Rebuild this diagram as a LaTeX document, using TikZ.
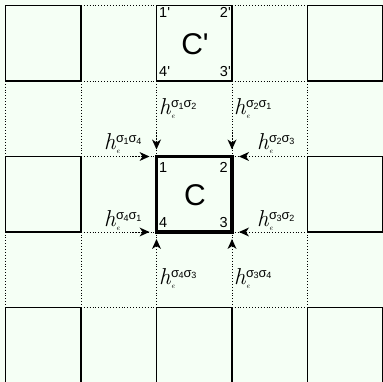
\documentclass[tikz,border=0pt]{standalone}
\usepackage{fontspec}
\setsansfont{Liberation Sans}[Ligatures=TeXOff]
\usetikzlibrary{arrows.meta}
\definecolor{bgc}{RGB}{245,255,245}
\newcommand{\hlab}[2]{{\fontsize{23}{23}\selectfont\itshape h}\kern0.3pt\rlap{\raisebox{-4pt}{\fontsize{7.5}{7.5}\selectfont\itshape e}}\raisebox{7pt}{\sffamily\fontsize{13}{13}\selectfont σ\kern-0.3pt\raisebox{-1.5pt}{\fontsize{9}{9}\selectfont #1}σ\kern-0.3pt\raisebox{-1.5pt}{\fontsize{9}{9}\selectfont #2}}}
\newcommand{\pr}{'}
\begin{document}
\begin{tikzpicture}[x=1pt,y=-1pt,
  cell/.style={draw=black,line width=1.6pt,fill=bgc,minimum size=75.5pt,inner sep=0pt,outer sep=0pt,anchor=north west},
  main/.style={cell,line width=3.5pt},
  grid/.style={line width=0.8pt,dash pattern=on 0.9pt off 2pt},
  arr/.style={line width=0.8pt,dash pattern=on 0.9pt off 2pt,-{Stealth[length=10pt,width=9pt,inset=3pt,line width=0pt]}},
  num/.style={font=\sffamily\fontsize{14.5}{14.5}\selectfont,inner sep=0pt},
  big/.style={font=\sffamily\fontsize{30}{30}\selectfont,inner sep=0pt},
  lab/.style={inner sep=0pt,anchor=base west}]
\fill[bgc] (0,0) rectangle (383,382);
\useasboundingbox (0,0) rectangle (383,382);
% dotted grid
\foreach \g in {5.5,81,156.5,232,307.5,383}{
  \draw[grid] (\g,5.5) -- (\g,383);
  \draw[grid] (5.5,\g) -- (383,\g);
}
% squares
\node[cell] (s11) at (5.5,5.5) {};
\node[cell] (cp) at (156.5,5.5) {};
\node[cell] (s15) at (307.5,5.5) {};
\node[cell] (s31) at (5.5,156.5) {};
\node[main] (c) at (156.5,156.5) {};
\node[cell] (s35) at (307.5,156.5) {};
\node[cell] (s51) at (5.5,307.5) {};
\node[cell] (s53) at (156.5,307.5) {};
\node[cell] (s55) at (307.5,307.5) {};
% texts in C'
\node[big] (cpl) at (195,44) {C\pr};
\node[num,anchor=base west] (p1) at (159,18) {1\pr};
\node[num,anchor=base east] (p2) at (231,18) {2\pr};
\node[num,anchor=base west] (p4) at (159,77) {4\pr};
\node[num,anchor=base east] (p3) at (231,77) {3\pr};
% texts in C
\node[big] (cl) at (195,195) {C};
\node[num,anchor=base west] (c1) at (159,172.5) {1};
\node[num,anchor=base east] (c2) at (228,172.5) {2};
\node[num,anchor=base west] (c4) at (159,228) {4};
\node[num,anchor=base east] (c3) at (228,228) {3};
% arrow tips
\coordinate (t1v) at (156.5,149.5); \coordinate (t1h) at (149.5,156.5);
\coordinate (t2v) at (232,149.5);   \coordinate (t2h) at (239,156.5);
\coordinate (t4h) at (149.5,232);   \coordinate (t4v) at (156.5,239);
\coordinate (t3h) at (239,232);     \coordinate (t3v) at (232,239);
\coordinate (o1v) at (156.5,132); \coordinate (o1h) at (132,156.5);
\coordinate (o2v) at (232,132);   \coordinate (o2h) at (256,156.5);
\coordinate (o4h) at (132,232);   \coordinate (o4v) at (156.5,256);
\coordinate (o3h) at (256,232);   \coordinate (o3v) at (232,256);
\draw[arr] (o1v) -- (t1v); \draw[arr] (o1h) -- (t1h);
\draw[arr] (o2v) -- (t2v); \draw[arr] (o2h) -- (t2h);
\draw[arr] (o4h) -- (t4h); \draw[arr] (o4v) -- (t4v);
\draw[arr] (o3h) -- (t3h); \draw[arr] (o3v) -- (t3v);
% labels
\node[lab] (l12) at (159,115) {\hlab{1}{2}};
\node[lab] (l21) at (234,115) {\hlab{2}{1}};
\node[lab] (l14) at (104,150) {\hlab{1}{4}};
\node[lab] (l23) at (257,150) {\hlab{2}{3}};
\node[lab] (l41) at (104,227) {\hlab{4}{1}};
\node[lab] (l32) at (257,227) {\hlab{3}{2}};
\node[lab] (l43) at (159,284) {\hlab{4}{3}};
\node[lab] (l34) at (234,284) {\hlab{3}{4}};
\end{tikzpicture}
\end{document}
